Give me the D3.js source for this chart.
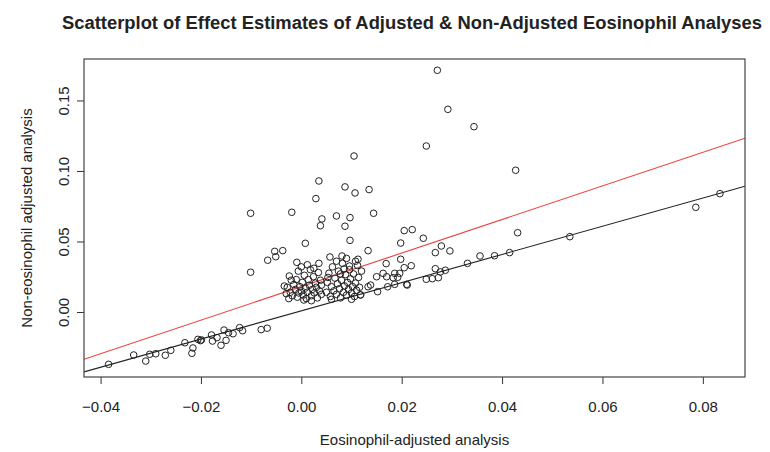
<!DOCTYPE html>
<html>
<head>
<meta charset="utf-8">
<script src="https://cdn.jsdelivr.net/npm/d3@7"></script>
<style>
  body { margin: 0; background: #fff; }
  text { font-family: "Liberation Sans", Arial, sans-serif; fill: #222; }
</style>
</head>
<body>
<svg width="770" height="452"></svg>
<script>
// Effect estimates, eosinophil-adjusted (x) vs non-adjusted (y)
var adjusted = [
  0.0271, 0.0292, 0.0344, 0.0249, 0.0427, 0.0205, 0.0221, 0.0198, 0.0243, 0.0431,
  0.0267, 0.0279, 0.0296, 0.0198, 0.0205, 0.0219, 0.0196, 0.0267, 0.0277, 0.0287,
  0.0249, 0.0261, 0.0273, 0.0211, 0.0331, 0.0356, 0.0385, 0.0415,
  0.0535, 0.0786, 0.0834,
  -0.0101, -0.0101, -0.0384, -0.0334, -0.0310, -0.0302, -0.0290, -0.0271, -0.0260, -0.0232,
  -0.0216, -0.0218, -0.0206, -0.0201, -0.0199, -0.0179, -0.0177, -0.0168, -0.0160, -0.0150,
  -0.0154, -0.0145, -0.0136, -0.0123, -0.0117, -0.0080, -0.0068,
  0.0105, 0.0035, 0.0087, 0.0107, 0.0135, 0.0029, -0.0019, 0.0041, 0.0038, 0.0070,
  0.0097, 0.0087, 0.0144,
  0.0097, 0.0008, -0.0053, -0.0067, -0.0051, -0.0037, 0.0133, 0.0169, 0.0057, 0.0081,
  0.0035, 0.0096, 0.0113, -0.0009, -0.0024, -0.0034, 0.0150, 0.0163, 0.0170, 0.0186,
  0.0183, 0.0192, 0.0210, 0.0138, 0.0152, 0.0172, 0.0133, 0.0186, 0.0118,
  -0.0030, -0.0025,
  -0.0028, -0.0022, -0.0018, -0.0015, -0.0012, -0.0010, -0.0008, -0.0005, -0.0003, 0.0000,
  0.0002, 0.0004, 0.0006, 0.0008, 0.0010, 0.0012, 0.0014, 0.0016, 0.0018, 0.0020,
  0.0022, 0.0024, 0.0026, 0.0028, 0.0030, 0.0032, 0.0034, 0.0036, 0.0038, 0.0040,
  -0.0006, 0.0000, 0.0012, -0.0020, 0.0025, 0.0040, 0.0005, 0.0020,
  0.0050, 0.0052, 0.0055, 0.0058, 0.0060, 0.0062, 0.0065, 0.0067, 0.0070, 0.0072,
  0.0074, 0.0076, 0.0078, 0.0080, 0.0082, 0.0084, 0.0086, 0.0088, 0.0090, 0.0092,
  0.0094, 0.0096, 0.0098, 0.0100, 0.0102, 0.0104, 0.0106, 0.0108, 0.0110, 0.0112,
  0.0114, 0.0116, 0.0118, 0.0120, 0.0070, 0.0090, 0.0060, 0.0100, 0.0108, 0.0053,
  0.0085, 0.0078
];
var nonAdjusted = [
  0.1714, 0.1437, 0.1314, 0.1177, 0.1005, 0.0577, 0.0584, 0.0489, 0.0523, 0.0562,
  0.0421, 0.0468, 0.0433, 0.0374, 0.0314, 0.0328, 0.0274, 0.0307, 0.0284, 0.0296,
  0.0232, 0.0236, 0.0243, 0.0191, 0.0345, 0.0397, 0.0399, 0.0421,
  0.0534, 0.0742, 0.0839,
  0.0700, 0.0282, -0.0371, -0.0305, -0.0348, -0.0300, -0.0296, -0.0307, -0.0272, -0.0218,
  -0.0255, -0.0293, -0.0194, -0.0203, -0.0198, -0.0163, -0.0206, -0.0182, -0.0236, -0.0201,
  -0.0128, -0.0147, -0.0154, -0.0111, -0.0133, -0.0125, -0.0115,
  0.1106, 0.0929, 0.0887, 0.0844, 0.0868, 0.0804, 0.0707, 0.0660, 0.0612, 0.0681,
  0.0669, 0.0608, 0.0700,
  0.0508, 0.0487, 0.0430, 0.0367, 0.0392, 0.0435, 0.0435, 0.0343, 0.0390, 0.0397,
  0.0345, 0.0326, 0.0374, 0.0352, 0.0255, 0.0184, 0.0250, 0.0274, 0.0250, 0.0274,
  0.0243, 0.0246, 0.0196, 0.0191, 0.0144, 0.0179, 0.0179, 0.0196, 0.0121,
  0.0130, 0.0095,
  0.0175, 0.0140, 0.0115, 0.0195, 0.0160, 0.0230, 0.0105, 0.0135, 0.0180, 0.0150,
  0.0210, 0.0120, 0.0260, 0.0170, 0.0095, 0.0140, 0.0230, 0.0190, 0.0300, 0.0115,
  0.0160, 0.0250, 0.0135, 0.0205, 0.0175, 0.0100, 0.0280, 0.0150, 0.0225, 0.0125,
  0.0290, 0.0320, 0.0335, 0.0225, 0.0310, 0.0190, 0.0085, 0.0080,
  0.0140, 0.0210, 0.0275, 0.0110, 0.0180, 0.0320, 0.0150, 0.0240, 0.0125, 0.0200,
  0.0290, 0.0165, 0.0100, 0.0225, 0.0345, 0.0140, 0.0185, 0.0265, 0.0120, 0.0210,
  0.0160, 0.0300, 0.0235, 0.0135, 0.0180, 0.0270, 0.0110, 0.0205, 0.0155, 0.0330,
  0.0245, 0.0175, 0.0121, 0.0290, 0.0360, 0.0380, 0.0090, 0.0090, 0.0360, 0.0245,
  0.0305, 0.0270
];

// Reference lines: [intercept, slope]
var blackLine = [0.0008, 1.0];
var redLine = [0.018, 1.19];

var xTicks = [-0.04, -0.02, 0.00, 0.02, 0.04, 0.06, 0.08];
var yTicks = [0.00, 0.05, 0.10, 0.15];

var svg = d3.select("svg"),
    margin = {top: 59, right: 25, bottom: 75, left: 84},
    width = +svg.attr("width") - margin.left - margin.right,
    height = +svg.attr("height") - margin.top - margin.bottom,
    g = svg.append("g").attr("transform", "translate(" + margin.left + "," + margin.top + ")");

var x = d3.scaleLinear().domain([-0.0433, 0.0884]).range([0, width]),
    y = d3.scaleLinear().domain([-0.0461, 0.1794]).range([height, 0]);

var points = adjusted.map(function(d, i) { return [d, nonAdjusted[i]]; });

// clip the lines to the plot box
g.append("clipPath").attr("id", "box")
  .append("rect").attr("width", width).attr("height", height);

// X axis
var xAxis = g.append("g")
  .attr("transform", "translate(0," + height + ")")
  .call(d3.axisBottom(x).tickValues(xTicks).tickFormat(d3.format(".2f")).tickSize(7).tickPadding(17));
xAxis.select(".domain").remove();
xAxis.selectAll("text").style("font-size", "15px");
xAxis.selectAll("line").attr("stroke", "#333");

// Y axis, labels turned like R does
var yAxis = g.append("g")
  .call(d3.axisLeft(y).tickValues(yTicks).tickFormat(d3.format(".2f")).tickSize(7));
yAxis.select(".domain").remove();
yAxis.selectAll("line").attr("stroke", "#333");
yAxis.selectAll("text")
  .style("font-size", "15px")
  .attr("x", null).attr("dy", null)
  .attr("text-anchor", "middle")
  .attr("transform", "translate(-15,0) rotate(-90)");

// fitted lines
[[blackLine, "#222"], [redLine, "#e8413c"]].forEach(function(l) {
  var xs = x.domain();
  g.append("line")
    .attr("clip-path", "url(#box)")
    .attr("x1", x(xs[0])).attr("y1", y(l[0][0] + l[0][1] * xs[0]))
    .attr("x2", x(xs[1])).attr("y2", y(l[0][0] + l[0][1] * xs[1]))
    .attr("stroke", l[1]).attr("stroke-width", 1.1);
});

// points
g.selectAll(".dot")
  .data(points)
  .enter()
  .append("circle")
  .attr("class", "dot")
  .attr("cx", function(d) { return x(d[0]); })
  .attr("cy", function(d) { return y(d[1]); })
  .attr("r", 3.3)
  .attr("fill", "none")
  .attr("stroke", "#222")
  .attr("stroke-width", 1);

// box
g.append("rect")
  .attr("width", width).attr("height", height)
  .attr("fill", "none").attr("stroke", "#444").attr("stroke-width", 1.2);

// titles
svg.append("text")
  .attr("x", 412).attr("y", 29)
  .attr("text-anchor", "middle")
  .attr("textLength", 700).attr("lengthAdjust", "spacingAndGlyphs")
  .style("font-size", "18px").style("font-weight", "bold")
  .text("Scatterplot of Effect Estimates of Adjusted & Non-Adjusted Eosinophil Analyses");

svg.append("text")
  .attr("x", margin.left + width / 2).attr("y", 445)
  .attr("text-anchor", "middle")
  .style("font-size", "15px")
  .text("Eosinophil-adjusted analysis");

svg.append("text")
  .attr("transform", "translate(31.5," + (margin.top + height / 2) + ") rotate(-90)")
  .attr("text-anchor", "middle")
  .style("font-size", "15px")
  .text("Non-eosinophil adjusted analysis");
</script>
</body>
</html>
